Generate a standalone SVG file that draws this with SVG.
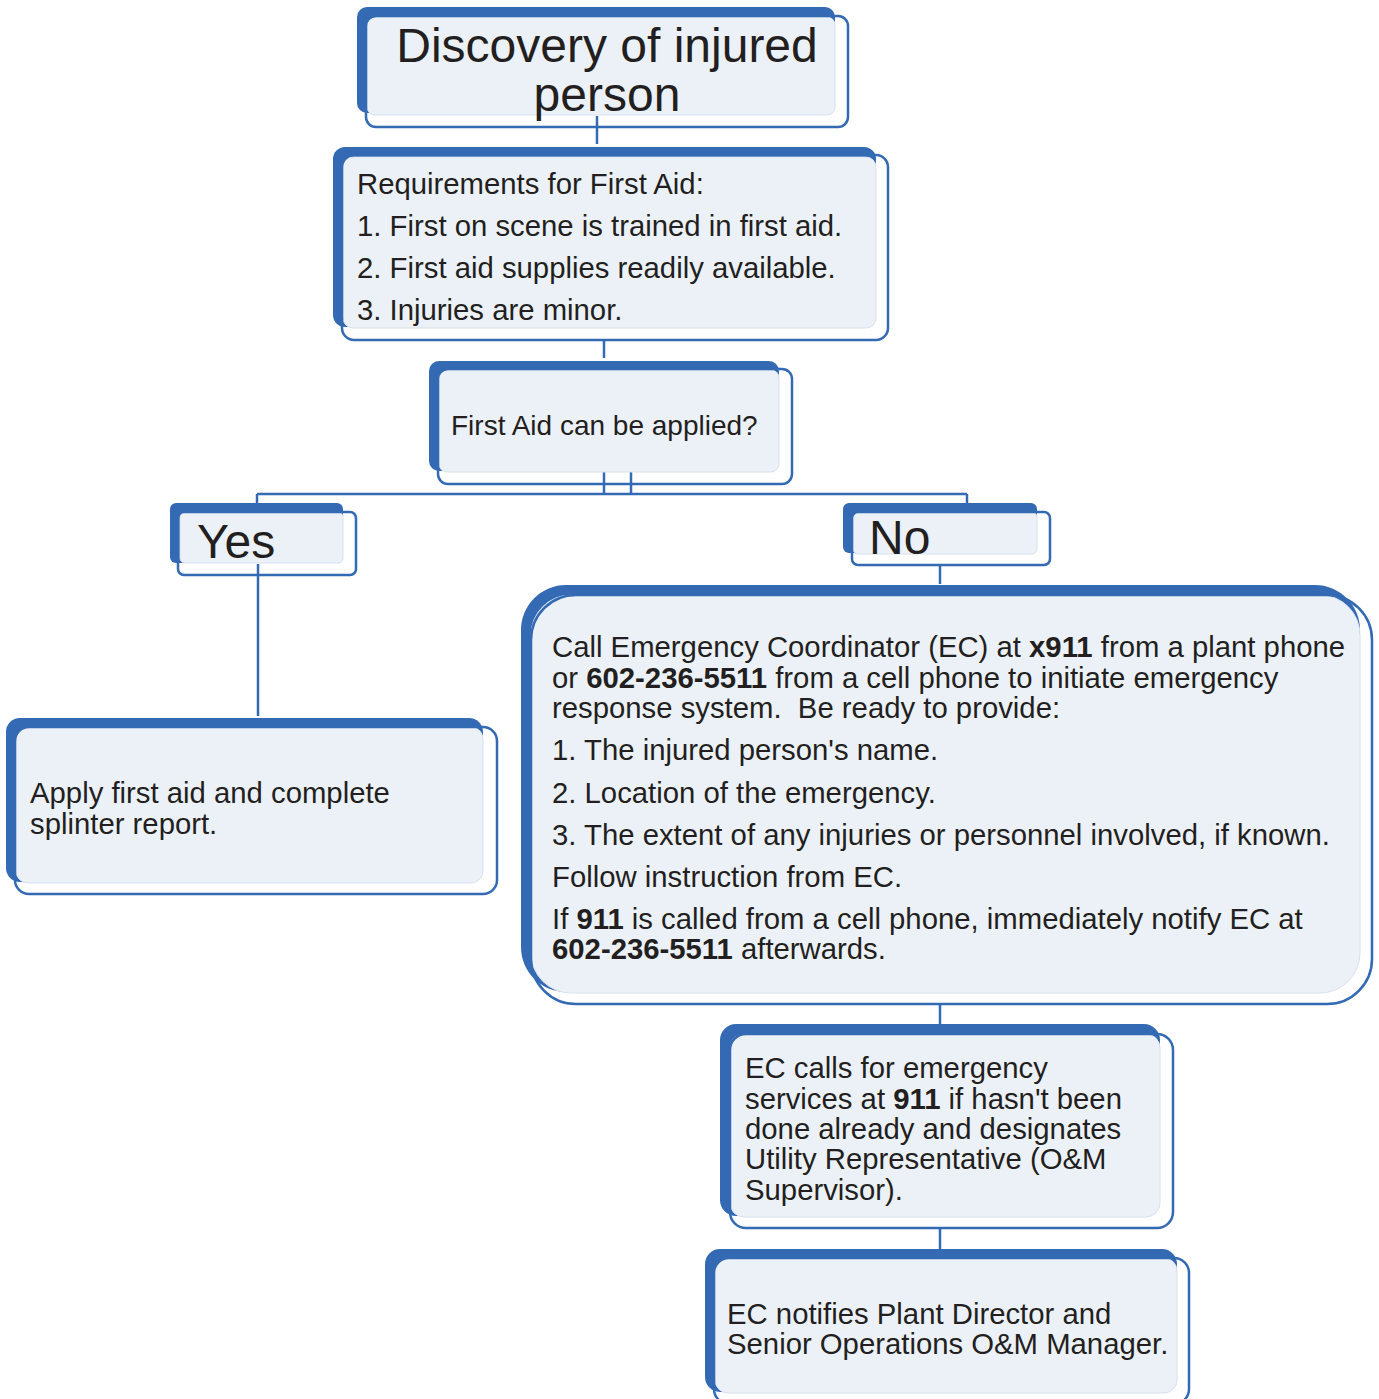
<svg xmlns="http://www.w3.org/2000/svg" width="1379" height="1399" viewBox="0 0 1379 1399">
<defs>
<style>
.sh{fill:#336AB3;}
.fl{fill:#ECF1F8;stroke:#D8E1EF;stroke-width:1;}
.ol{fill:none;stroke:#336AB3;stroke-width:2.5;}
.cn{stroke:#336AB3;stroke-width:2.5;fill:none;}
text{font-family:"Liberation Sans",Arial,sans-serif;fill:#231F20;}
.t48{font-size:48px;}
.t29{font-size:29.3px;}
.t28{font-size:28px;}
.b{font-weight:bold;}
</style>
</defs>
<rect width="1379" height="1399" fill="#FFFFFF"/>
<g id="connectors">
<path class="cn" d="M597,116 V144"/>
<path class="cn" d="M604,340 V358"/>
<path class="cn" d="M604,472 V494 M631,472 V494"/>
<path class="cn" d="M257,494 H967"/>
<path class="cn" d="M257,494 V504 M967,494 V504"/>
<path class="cn" d="M258,564 V716"/>
<path class="cn" d="M940,565 V584"/>
<path class="cn" d="M940,1004 V1024"/>
<path class="cn" d="M940,1228 V1249"/>
</g>
<g id="n1">
<rect class="sh" x="357" y="7" width="478" height="106" rx="10"/>
<rect class="fl" x="367" y="17" width="468" height="98" rx="8"/>
<rect class="ol" x="366" y="16" width="482" height="111" rx="10"/>
<text class="t48" x="607" y="62" text-anchor="middle">Discovery of injured</text>
<text class="t48" x="607" y="111" text-anchor="middle">person</text>
</g>
<g id="n2">
<rect class="sh" x="333" y="147" width="543" height="180" rx="12"/>
<rect class="fl" x="343" y="157" width="533" height="171" rx="10"/>
<rect class="ol" x="342" y="155" width="546" height="185" rx="12"/>
<text class="t29" x="357" y="194">Requirements for First Aid:</text>
<text class="t29" x="357" y="236">1. First on scene is trained in first aid.</text>
<text class="t29" x="357" y="278">2. First aid supplies readily available.</text>
<text class="t29" x="357" y="320">3. Injuries are minor.</text>
</g>
<g id="n3">
<rect class="sh" x="429" y="361" width="350" height="110" rx="10"/>
<rect class="fl" x="439" y="370" width="340" height="102" rx="8"/>
<rect class="ol" x="438" y="369" width="354" height="115" rx="10"/>
<text class="t28" x="451" y="435">First Aid can be applied?</text>
</g>
<g id="yes">
<rect class="sh" x="170" y="503" width="173" height="60" rx="6"/>
<rect class="fl" x="180" y="512" width="163" height="51" rx="5"/>
<rect class="ol" x="178" y="512" width="178" height="63" rx="6"/>
<text class="t48" x="197" y="558">Yes</text>
</g>
<g id="no">
<rect class="sh" x="843" y="503" width="194" height="50" rx="6"/>
<rect class="fl" x="853" y="512" width="184" height="42" rx="5"/>
<rect class="ol" x="852" y="512" width="198" height="53" rx="6"/>
<text class="t48" x="869" y="554">No</text>
</g>
<g id="apply">
<rect class="sh" x="6" y="718" width="477" height="164" rx="14"/>
<rect class="fl" x="16" y="727" width="467" height="156" rx="12"/>
<rect class="ol" x="15" y="727" width="482" height="167" rx="14"/>
<text class="t29" x="30" y="803">Apply first aid and complete</text>
<text class="t29" x="30" y="834">splinter report.</text>
</g>
<g id="call">
<rect class="sh" x="521" y="585" width="839" height="407" rx="45"/>
<rect class="fl" x="531" y="595" width="829" height="398" rx="40"/>
<rect class="ol" x="531" y="595" width="841" height="409" rx="45"/>
<text class="t29" x="552" y="657">Call Emergency Coordinator (EC) at <tspan class="b">x911</tspan> from a plant phone</text>
<text class="t29" x="552" y="688">or <tspan class="b">602-236-5511</tspan> from a cell phone to initiate emergency</text>
<text class="t29" x="552" y="718" xml:space="preserve">response system.  Be ready to provide:</text>
<text class="t29" x="552" y="760">1. The injured person's name.</text>
<text class="t29" x="552" y="803">2. Location of the emergency.</text>
<text class="t29" x="552" y="845">3. The extent of any injuries or personnel involved, if known.</text>
<text class="t29" x="552" y="887">Follow instruction from EC.</text>
<text class="t29" x="552" y="929">If <tspan class="b">911</tspan> is called from a cell phone, immediately notify EC at</text>
<text class="t29" x="552" y="959"><tspan class="b">602-236-5511</tspan> afterwards.</text>
</g>
<g id="ec-calls">
<rect class="sh" x="720" y="1024" width="440" height="192" rx="16"/>
<rect class="fl" x="730" y="1034" width="430" height="183" rx="14"/>
<rect class="ol" x="730" y="1034" width="443" height="194" rx="16"/>
<text class="t29" x="745" y="1078">EC calls for emergency</text>
<text class="t29" x="745" y="1109">services at <tspan class="b">911</tspan> if hasn't been</text>
<text class="t29" x="745" y="1139">done already and designates</text>
<text class="t29" x="745" y="1169">Utility Representative (O&amp;M</text>
<text class="t29" x="745" y="1200">Supervisor).</text>
</g>
<g id="ec-notifies">
<rect class="sh" x="705" y="1249" width="472" height="143" rx="15"/>
<rect class="fl" x="715" y="1258" width="462" height="135" rx="13"/>
<rect class="ol" x="714" y="1258" width="475" height="146" rx="15"/>
<text class="t29" x="727" y="1324">EC notifies Plant Director and</text>
<text class="t29" x="727" y="1354">Senior Operations O&amp;M Manager.</text>
</g>
</svg>
